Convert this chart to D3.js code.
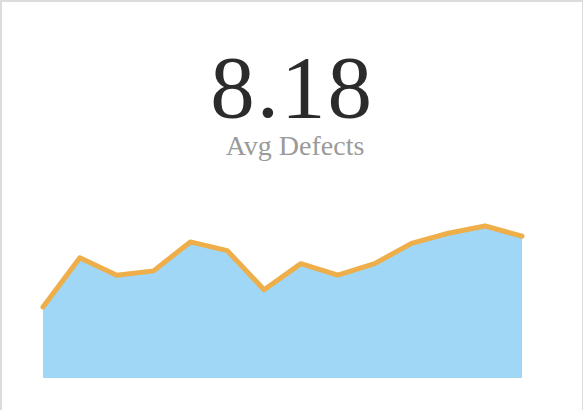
<!DOCTYPE html>
<html>
<head>
<meta charset="utf-8">
<script src="https://cdn.jsdelivr.net/npm/d3@7"></script>
<style>
    body { margin: 0; background: #fff; }
    #chart svg { display: block; }
</style>
</head>
<body>
<div id="chart"></div>
<script>
// Defects per period (14 samples)
const periods = d3.range(1, 15);
const defects = [4.9, 8.3, 7.1, 7.4, 9.4, 8.8, 6.1, 7.9, 7.1, 7.9, 9.3, 10.0, 10.5, 9.8];
const label = 'Avg Defects';

const width = 583;
const height = 410;

const svg = d3.select('#chart')
    .append('svg')
    .attr('width', width)
    .attr('height', height);

// Card border
svg.append('rect')
    .attr('x', 1)
    .attr('y', 1)
    .attr('width', 582)
    .attr('height', 420)
    .style('fill', '#fff')
    .style('stroke', '#dcdcdc')
    .style('stroke-width', 2);

// Big number
const avg = d3.mean(defects);
svg.append('text')
    .attr('x', 292)
    .attr('y', 117)
    .attr('text-anchor', 'middle')
    .style('font-family', '"Liberation Serif", serif')
    .style('font-size', '89px')
    .style('letter-spacing', '2px')
    .style('fill', '#2b2b2b')
    .text(d3.format('.2f')(avg));

svg.append('text')
    .attr('x', 295)
    .attr('y', 155)
    .attr('text-anchor', 'middle')
    .style('font-family', '"Liberation Serif", serif')
    .style('font-size', '28px')
    .style('fill', '#9a9a9a')
    .text(label);

// Sparkline
const x = d3.scaleLinear()
    .domain(d3.extent(periods))
    .range([43, 522]);

const y = d3.scaleLinear()
    .domain([0, 10.5])
    .range([378, 226]);

const area = d3.area()
    .x((d, i) => x(periods[i]))
    .y0(y(0))
    .y1(d => y(d));

const line = d3.line()
    .x((d, i) => x(periods[i]))
    .y(d => y(d));

svg.append('path')
    .datum(defects)
    .attr('d', area)
    .style('fill', '#a0d6f6');

svg.append('path')
    .datum(defects)
    .attr('d', line)
    .style('fill', 'none')
    .style('stroke', '#eeae4a')
    .style('stroke-width', 5)
    .style('stroke-linecap', 'round')
    .style('stroke-linejoin', 'round');
</script>
</body>
</html>
